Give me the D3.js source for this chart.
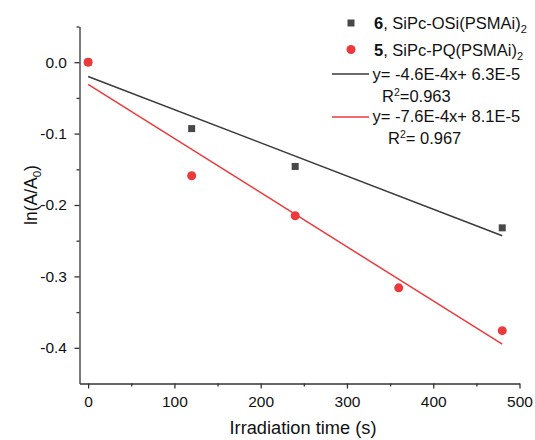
<!DOCTYPE html>
<html><head><meta charset="utf-8">
<script src="https://cdn.jsdelivr.net/npm/d3@7"></script>
<style>body{margin:0;background:#fff}svg{display:block}text{font-family:Arial,"Liberation Sans",sans-serif}</style>
</head><body>
<svg id="c" width="535" height="440"></svg>
<script>
const times6 = [0, 120, 240, 480];
const values6 = [0, -0.093, -0.146, -0.232];
const times5 = [0, 120, 240, 360, 480];
const values5 = [0, -0.159, -0.215, -0.316, -0.376];
const fitX = [0, 480];
const fit6Y = [-0.020, -0.243];
const fit5Y = [-0.031, -0.395];
const xTicks = [0, 100, 200, 300, 400, 500];
const yTicks = [0, -0.1, -0.2, -0.3, -0.4];
const xMinor = [50, 150, 250, 350, 450];
const yMinor = [0.05, -0.05, -0.15, -0.25, -0.35];

const dark = "#484848", darkLine = "#3a3a3a", red = "#ec3a3c";
const svg = d3.select("#c");
const x = d3.scaleLinear().domain([-10, 500]).range([79.5, 519.5]);
const y = d3.scaleLinear().domain([-0.45, 0.05]).range([383.5, 26.5]);

const yFmt = d => d3.format(".1f")(d).replace("\u2212", "-");
const xAxis = svg.append("g").attr("transform", "translate(0,383.5)")
  .call(d3.axisBottom(x).tickValues(xTicks).tickFormat(d3.format("d")).tickSize(5).tickPadding(7).tickSizeOuter(0));
const xMin = svg.append("g").attr("transform", "translate(0,383.5)")
  .call(d3.axisBottom(x).tickValues(xMinor).tickFormat("").tickSize(3).tickSizeOuter(0));
const yAxis = svg.append("g").attr("transform", "translate(79.5,0)")
  .call(d3.axisLeft(y).tickValues(yTicks).tickFormat(yFmt).tickSize(5).tickPadding(7.5).tickSizeOuter(0));
const yMin = svg.append("g").attr("transform", "translate(79.5,0)")
  .call(d3.axisLeft(y).tickValues(yMinor).tickFormat("").tickSize(3).tickSizeOuter(0));
[xAxis, xMin, yAxis, yMin].forEach(g => {
  g.selectAll("path,line").attr("stroke", "#333").attr("stroke-width", 1.3);
  g.selectAll("text").attr("font-size", 15.5).attr("fill", "#111").attr("font-family", "Arial, 'Liberation Sans', sans-serif");
});
xAxis.selectAll("text").attr("dy", "0.71em");
xMin.select(".domain").remove(); yMin.select(".domain").remove();

// axis titles
svg.append("text").attr("x", 303).attr("y", 434).attr("text-anchor", "middle")
  .attr("font-size", 17.5).attr("fill", "#111").attr("textLength", 147).attr("lengthAdjust", "spacingAndGlyphs")
  .text("Irradiation time (s)");
const yt = svg.append("text").attr("transform", "translate(37,195) rotate(-90)")
  .attr("text-anchor", "middle").attr("font-size", 17.5).attr("fill", "#111");
yt.append("tspan").text("ln(A/A");
yt.append("tspan").attr("font-size", 11.5).attr("dy", 4).text("0");
yt.append("tspan").attr("dy", -4).text(")");

// fit lines
const line = d3.line().x(d => x(d[0])).y(d => y(d[1]));
svg.append("path").datum(d3.zip(fitX, fit6Y)).attr("d", line).attr("fill", "none").attr("stroke", darkLine).attr("stroke-width", 1.5);
svg.append("path").datum(d3.zip(fitX, fit5Y)).attr("d", line).attr("fill", "none").attr("stroke", red).attr("stroke-width", 1.5);

// markers
svg.append("g").selectAll("rect").data(d3.zip(times6, values6)).join("rect")
  .attr("x", d => x(d[0]) - 3.5).attr("y", d => y(d[1]) - 3.5).attr("width", 7).attr("height", 7).attr("fill", dark);
svg.append("g").selectAll("circle").data(d3.zip(times5, values5)).join("circle")
  .attr("cx", d => x(d[0])).attr("cy", d => y(d[1])).attr("r", 4.5).attr("fill", red);

// legend
const lg = svg.append("g").attr("font-size", 16.5).attr("fill", "#111");
lg.append("rect").attr("x", 347.5).attr("y", 19.5).attr("width", 7).attr("height", 7).attr("fill", dark);
lg.append("circle").attr("cx", 351).attr("cy", 49.5).attr("r", 4.5).attr("fill", red);
function entry(ty, bold, rest) {
  const t = lg.append("text").attr("x", 374).attr("y", ty);
  t.append("tspan").attr("font-weight", "bold").text(bold);
  t.append("tspan").text(rest);
  t.append("tspan").attr("font-size", 11).attr("dy", 4).text("2");
}
entry(29, "6", ", SiPc-OSi(PSMAi)");
entry(56, "5", ", SiPc-PQ(PSMAi)");
lg.append("line").attr("x1", 332).attr("x2", 369).attr("y1", 74).attr("y2", 74).attr("stroke", darkLine).attr("stroke-width", 1.5);
lg.append("text").attr("x", 372.5).attr("y", 80).text("y= -4.6E-4x+ 6.3E-5");
const r1 = lg.append("text").attr("x", 382).attr("y", 102);
r1.append("tspan").text("R"); r1.append("tspan").attr("font-size", 10.5).attr("dy", -6).text("2"); r1.append("tspan").attr("dy", 6).text("=0.963");
lg.append("line").attr("x1", 332).attr("x2", 369).attr("y1", 117).attr("y2", 117).attr("stroke", red).attr("stroke-width", 1.5);
lg.append("text").attr("x", 372.5).attr("y", 122).text("y= -7.6E-4x+ 8.1E-5");
const r2 = lg.append("text").attr("x", 388).attr("y", 144);
r2.append("tspan").text("R"); r2.append("tspan").attr("font-size", 10.5).attr("dy", -6).text("2"); r2.append("tspan").attr("dy", 6).text("= 0.967");
</script>
</body></html>
